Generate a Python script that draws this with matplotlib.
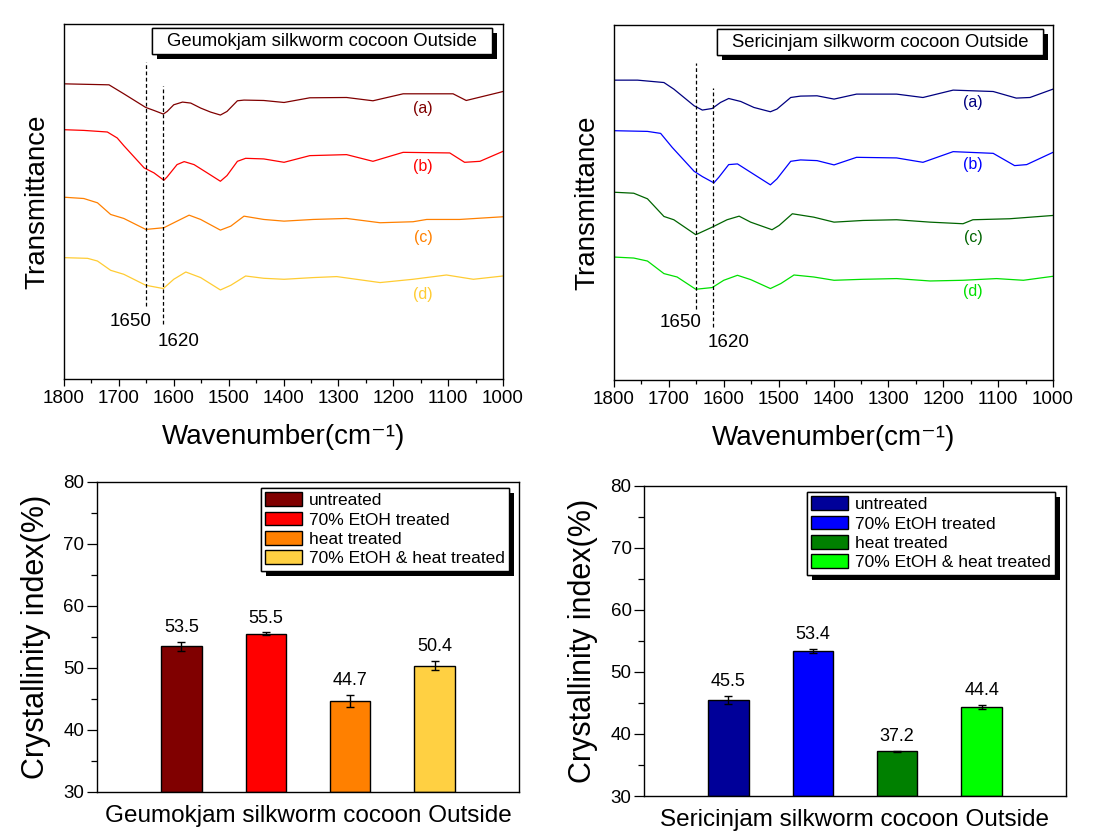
import matplotlib
matplotlib.use("Agg")
import matplotlib.pyplot as plt
import matplotlib.patheffects as pe
from matplotlib.patches import Rectangle
from matplotlib.ticker import MultipleLocator

plt.rcParams['font.family'] = ['Liberation Sans', 'DejaVu Sans']

# ---------------- spectra data (transmittance, a.u.) ----------------
wn_ga = [1800, 1718, 1703, 1691, 1651, 1636, 1619, 1612, 1600, 1584, 1569, 1551, 1533, 1515, 1503, 1484, 1472, 1436, 1399,
         1352, 1285, 1237, 1182, 1091, 1067, 1000]
t_ga = [296, 295, 290, 286, 272.3, 269.3, 265.7, 268.3, 275, 277.7, 276.7, 271.7, 267.7, 264.7, 268.3, 279, 279.7, 279.3, 277.3,
        282, 282.3, 279, 286, 286, 279.3, 288.3]

wn_gb = [1800, 1764, 1721, 1703, 1691, 1654, 1636, 1618, 1612, 1594, 1581, 1563, 1539, 1515, 1503, 1484, 1469, 1436, 1399,
         1352, 1285, 1237, 1182, 1097, 1070, 1042, 1000]
t_gb = [250, 249.3, 247.7, 241.7, 234, 211.7, 206.7, 199.3, 202.7, 215, 218, 215, 206.7, 198.3, 204, 218.3, 221.3, 220.7, 217.3,
        224, 225, 218.3, 227.3, 226.7, 217.3, 218.3, 228.3]

wn_gc = [1800, 1764, 1739, 1715, 1691, 1651, 1618, 1594, 1572, 1551, 1515, 1496, 1472, 1436, 1399,
         1346, 1285, 1224, 1164, 1139, 1079, 1000]
t_gc = [182.3, 181, 176.7, 165, 161, 150, 151.7, 158.3, 164.3, 160, 149.3, 153.3, 163.3, 160, 158.3,
        160, 161, 156.7, 157.7, 160, 160, 162.7]

wn_gd = [1800, 1757, 1739, 1715, 1691, 1651, 1619, 1600, 1578, 1551, 1515, 1496, 1469, 1436, 1399,
         1346, 1303, 1224, 1164, 1103, 1054, 1000]
t_gd = [121.7, 121, 118.3, 109, 105, 94, 90.7, 100, 107.3, 101.7, 89.3, 94, 103.3, 101, 100,
        101.7, 102.7, 96.7, 100, 104.3, 100, 103.3]

wn_sa = [1800, 1757, 1709, 1691, 1654, 1639, 1621, 1606, 1591, 1569, 1545, 1515, 1503, 1478, 1460, 1430, 1399,
         1358, 1285, 1237, 1182, 1109, 1067, 1042, 1000]
t_sa = [300.7, 300.7, 298.3, 291.7, 275, 270.7, 272.3, 278.3, 282.3, 279.3, 273.3, 269, 271.7, 283.3, 284.7, 285, 281.7,
        286.7, 286.7, 283.3, 290.7, 289.3, 282.7, 283.3, 291.7]

wn_sb = [1800, 1739, 1715, 1694, 1654, 1639, 1618, 1609, 1591, 1575, 1551, 1515, 1503, 1478, 1460, 1430, 1399,
         1358, 1285, 1237, 1182, 1109, 1070, 1048, 1000]
t_sb = [250, 249.3, 247.3, 233.3, 209.3, 204, 197.7, 203.3, 216, 216.7, 208.3, 195.7, 201.7, 219.3, 220.7, 220, 215.7,
        223.3, 222.7, 218.3, 229, 227.3, 215, 216, 228.3]

wn_sc = [1800, 1764, 1739, 1709, 1691, 1651, 1621, 1594, 1572, 1551, 1512, 1499, 1475, 1436, 1399,
         1346, 1285, 1224, 1164, 1146, 1079, 1000]
t_sc = [188.3, 187.3, 181.7, 164, 160.7, 145.7, 153.3, 160.7, 164.3, 158.3, 150.7, 155, 166.7, 163.3, 158.3,
        160, 160.7, 158.3, 156.7, 160.7, 161.7, 165]

wn_sd = [1800, 1764, 1739, 1709, 1685, 1651, 1621, 1600, 1575, 1551, 1515, 1496, 1472, 1436, 1399,
         1346, 1285, 1224, 1164, 1103, 1054, 1000]
t_sd = [123.3, 122.3, 119.3, 106.7, 103.3, 91, 92.7, 100, 105, 100.7, 91.7, 96.7, 105.3, 103.3, 100,
        101, 101.7, 99.3, 100, 101.7, 100, 104]

curve_labels = ['(a)', '(b)', '(c)', '(d)']
g_label_y = [271.7, 213.3, 141.7, 85]
s_label_y = [278.3, 216, 143.3, 88.3]
label_wn = 1146

peak_wn = [1650, 1620]
peak_labels = ['1650', '1620']
g_vline = [(73.3, 318.3), (55, 294.3)]
s_vline = [(71.7, 317.7), (53.3, 293.3)]
peak_label_wn = [1678, 1592]
peak_label_y = [58, 38]

g_colors = ['#800000', '#FF0000', '#FF8000', '#FFCC33']
s_colors = ['#000080', '#0000FF', '#006400', '#00E000']

# ---------------- bar data ----------------
treatments = ['untreated', '70% EtOH treated', 'heat treated', '70% EtOH & heat treated']
g_ci = [53.5, 55.5, 44.7, 50.4]
g_err = [0.75, 0.25, 0.95, 0.8]
s_ci = [45.5, 53.4, 37.2, 44.4]
s_err = [0.7, 0.35, 0.1, 0.3]
g_bar_colors = ['#800000', '#FF0000', '#FF8000', '#FFD042']
s_bar_colors = ['#000099', '#0000FF', '#008000', '#00FF00']

fig = plt.figure(figsize=(10.97, 8.38), dpi=100)
W, H = 1097, 838

def ax_px(l, t, r, b):
    return fig.add_axes([l / W, 1 - b / H, (r - l) / W, (b - t) / H])

shadow = [pe.withSimplePatchShadow(offset=(3.6, -3.6), shadow_rgbFace='black', alpha=1.0), pe.Normal()]

def spectrum(ax, wns, ts, colors, label_y, vlines, title, box):
    for w, t, c in zip(wns, ts, colors):
        ax.plot(w, t, color=c, lw=0.9)
    for lab, y, c in zip(curve_labels, label_y, colors):
        ax.text(label_wn, y, lab, color=c, fontsize=11.5, ha='center', va='center')
    for p, (y0, y1) in zip(peak_wn, vlines):
        ax.plot([p, p], [y0, y1], color='black', ls=(0, (3, 2)), lw=0.9)
    for lab, x, y in zip(peak_labels, peak_label_wn, peak_label_y):
        ax.text(x, y, lab, fontsize=13.5, ha='center', va='center')
    ax.set_xlim(1800, 1000)
    ax.set_ylim(0, 356)
    ax.set_yticks([])
    ax.xaxis.set_major_locator(MultipleLocator(100))
    ax.xaxis.set_minor_locator(MultipleLocator(50))
    ax.tick_params(axis='x', which='major', direction='out', length=5, width=0.9, labelsize=13.5, pad=3)
    ax.tick_params(axis='x', which='minor', direction='out', length=3, width=0.9)
    ax.set_xlabel('Wavenumber(cm\u207b\u00b9)', fontsize=20, labelpad=12)
    ax.set_ylabel('Transmittance', fontsize=20, labelpad=10)
    x0, x1, y0, y1 = box
    r = Rectangle((x0, y0), x1 - x0, y1 - y0, transform=ax.transAxes, fc='white', ec='black', lw=1, zorder=5)
    r.set_path_effects(shadow)
    ax.add_patch(r)
    ax.text((x0 + x1) / 2, (y0 + y1) / 2, title, transform=ax.transAxes, fontsize=13.3,
            ha='center', va='center', zorder=6)
    for s in ax.spines.values():
        s.set_linewidth(1)

ax1 = ax_px(64, 24, 503, 379)
spectrum(ax1, [wn_ga, wn_gb, wn_gc, wn_gd], [t_ga, t_gb, t_gc, t_gd], g_colors, g_label_y, g_vline,
         'Geumokjam silkworm cocoon Outside', (0.2005, 0.975, 0.915, 0.989))
ax2 = ax_px(614, 25, 1053, 380)
spectrum(ax2, [wn_sa, wn_sb, wn_sc, wn_sd], [t_sa, t_sb, t_sc, t_sd], s_colors, s_label_y, s_vline,
         'Sericinjam silkworm cocoon Outside', (0.2346, 0.977, 0.915, 0.989))

def bars(ax, vals, errs, colors, xlabel, anchor):
    xs = list(range(1, len(vals) + 1))
    for x, v, e, c, lab in zip(xs, vals, errs, colors, treatments):
        ax.bar(x, v - 30, bottom=30, width=0.48, color=c, edgecolor='black', lw=1, label=lab)
        ax.errorbar(x, v, yerr=e, color='black', lw=1, capsize=3, capthick=1)
        ax.annotate(f'{v:.1f}', (x, v + e), xytext=(0, 4), textcoords='offset points',
                    ha='center', va='bottom', fontsize=13)
    ax.set_xlim(0, 5)
    ax.set_ylim(30, 80)
    ax.set_xticks([])
    ax.yaxis.set_major_locator(MultipleLocator(10))
    ax.yaxis.set_minor_locator(MultipleLocator(5))
    ax.tick_params(axis='y', which='major', direction='out', length=7, width=0.9, labelsize=13.5, pad=2)
    ax.tick_params(axis='y', which='minor', direction='out', length=4, width=0.9)
    ax.set_ylabel('Crystallinity index(%)', fontsize=22, labelpad=9)
    ax.set_xlabel(xlabel, fontsize=17.5, labelpad=9)
    leg = ax.legend(loc='upper right', bbox_to_anchor=anchor, borderaxespad=0, fontsize=12.5,
                    fancybox=False, framealpha=1, edgecolor='black', handlelength=2.1,
                    handleheight=0.85, handletextpad=0.4, labelspacing=0.2, borderpad=0.25)
    leg.get_frame().set_linewidth(1)
    leg.get_frame().set_path_effects(shadow)
    for s in ax.spines.values():
        s.set_linewidth(1)

ax3 = ax_px(97, 482, 519, 792)
bars(ax3, g_ci, g_err, g_bar_colors, 'Geumokjam silkworm cocoon Outside', (0.976, 0.981))
ax4 = ax_px(644, 486, 1066, 796)
bars(ax4, s_ci, s_err, s_bar_colors, 'Sericinjam silkworm cocoon Outside', (0.974, 0.981))

fig.savefig('out.png', dpi=100)
